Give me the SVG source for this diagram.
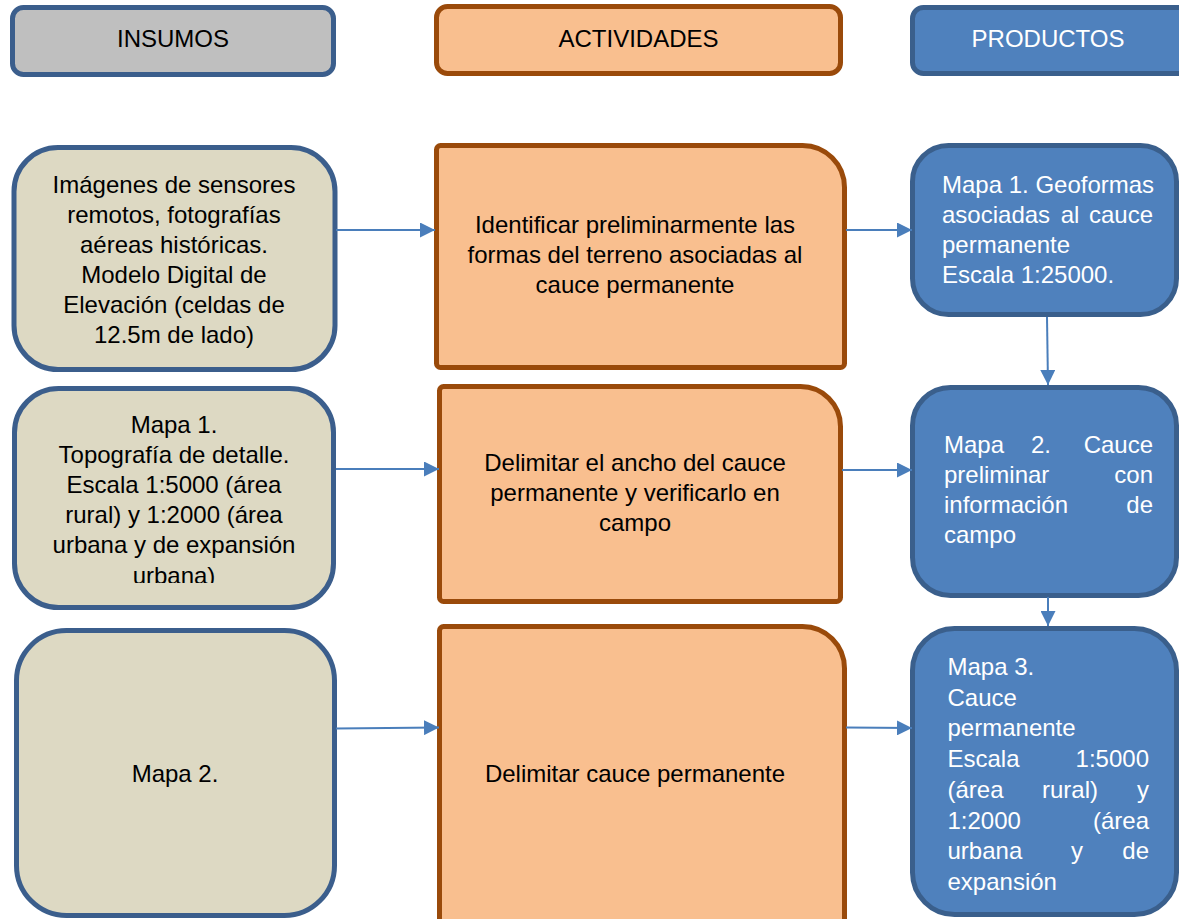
<svg xmlns="http://www.w3.org/2000/svg" width="1179" height="919" viewBox="0 0 1179 919">
<style>
.ins{fill:#DDD9C3;stroke:#3B5E8C;stroke-width:5}
.act{fill:#F9BF8F;stroke:#9A4A0A;stroke-width:5}
.prd{fill:#4F81BD;stroke:#3A5F8C;stroke-width:5}
.hi{fill:#BFBFBF;stroke:#3B5E8C;stroke-width:5}
text{font-family:"Liberation Sans",Arial,sans-serif;font-size:24px;fill:#000}
.c{text-anchor:middle}
.w{fill:#fff}
.e{text-anchor:end}
.con{stroke:#4A7EBB;stroke-width:2;fill:none;marker-end:url(#ah)}
</style>
<defs>
<marker id="ah" viewBox="0 0 15 15" refX="15" refY="7.5" markerUnits="userSpaceOnUse" markerWidth="15" markerHeight="15" orient="auto">
<path d="M0,0 L15,7.5 L0,15 Z" fill="#4A7EBB"/>
</marker>
<clipPath id="clip2"><rect x="0" y="380" width="400" height="203"/></clipPath>
</defs>
<rect width="1179" height="919" fill="#fff"/>

<g id="h-insumos"><rect class="hi" x="12.5" y="7.5" width="321" height="67" rx="11"/><text class="c" x="173" y="47">INSUMOS</text></g>
<g id="h-actividades"><rect class="act" x="436.5" y="6.5" width="404" height="67" rx="11"/><text class="c" x="638.5" y="47">ACTIVIDADES</text></g>
<g id="h-productos"><rect class="prd" x="912.5" y="7.5" width="280" height="66" rx="11"/><text class="c w" x="1048" y="47">PRODUCTOS</text></g>

<g id="ins1"><rect class="ins" x="14" y="147.5" width="321" height="222" rx="44"/>
<text class="c" x="174" y="193">Imágenes de sensores</text>
<text class="c" x="174" y="223">remotos, fotografías</text>
<text class="c" x="174" y="253">aéreas históricas.</text>
<text class="c" x="174" y="283">Modelo Digital de</text>
<text class="c" x="174" y="313">Elevación (celdas de</text>
<text class="c" x="174" y="343">12.5m de lado)</text></g>

<g id="act1"><path class="act" d="M440.5,145.5 H802.5 A42,42 0 0 1 844.5,187.5 V363.5 A4,4 0 0 1 840.5,367.5 H440.5 A4,4 0 0 1 436.5,363.5 V149.5 A4,4 0 0 1 440.5,145.5 Z"/>
<text class="c" x="635" y="233">Identificar preliminarmente las</text>
<text class="c" x="635" y="263">formas del terreno asociadas al</text>
<text class="c" x="635" y="293">cauce permanente</text></g>

<g id="prd1"><rect class="prd" x="912.5" y="145.5" width="264" height="169" rx="36"/>
<text class="w" x="942" y="193">Mapa 1. Geoformas</text>
<text class="w" x="942" y="223">asociadas</text><text class="w c" x="1070" y="223">al</text><text class="w e" x="1153" y="223">cauce</text>
<text class="w" x="942" y="253">permanente</text>
<text class="w" x="942" y="283">Escala 1:25000.</text></g>

<g id="ins2"><rect class="ins" x="14.5" y="388.5" width="319" height="219" rx="44"/>
<g clip-path="url(#clip2)">
<text class="c" x="174" y="433">Mapa 1.</text>
<text class="c" x="174" y="463">Topografía de detalle.</text>
<text class="c" x="174" y="493">Escala 1:5000 (área</text>
<text class="c" x="174" y="523">rural) y 1:2000 (área</text>
<text class="c" x="174" y="553">urbana y de expansión</text>
<text class="c" x="174" y="584">urbana)</text></g></g>

<g id="act2"><path class="act" d="M443.5,386.5 H800.5 A40,40 0 0 1 840.5,426.5 V597.5 A4,4 0 0 1 836.5,601.5 H443.5 A4,4 0 0 1 439.5,597.5 V390.5 A4,4 0 0 1 443.5,386.5 Z"/>
<text class="c" x="635" y="471">Delimitar el ancho del cauce</text>
<text class="c" x="635" y="501">permanente y verificarlo en</text>
<text class="c" x="635" y="531">campo</text></g>

<g id="prd2"><rect class="prd" x="912.5" y="387.5" width="264" height="208" rx="38"/>
<text class="w" x="944" y="453">Mapa</text><text class="w" x="1031" y="453">2.</text><text class="w e" x="1153" y="453">Cauce</text>
<text class="w" x="944" y="483">preliminar</text><text class="w e" x="1153" y="483">con</text>
<text class="w" x="944" y="513">información</text><text class="w e" x="1153" y="513">de</text>
<text class="w" x="944" y="543">campo</text></g>

<g id="ins3"><rect class="ins" x="16.5" y="630.5" width="318" height="285" rx="50"/>
<text class="c" x="175" y="782">Mapa 2.</text></g>

<g id="act3"><path class="act" d="M443.5,626.5 H802.5 A42,42 0 0 1 844.5,668.5 V930 H439.5 V630.5 A4,4 0 0 1 443.5,626.5 Z"/>
<text class="c" x="635" y="782">Delimitar cauce permanente</text></g>

<g id="prd3"><rect class="prd" x="912.5" y="628.5" width="264" height="286" rx="42"/>
<text class="w" x="947.5" y="675">Mapa 3.</text>
<text class="w" x="947.5" y="706">Cauce</text>
<text class="w" x="947.5" y="736">permanente</text>
<text class="w" x="947.5" y="767">Escala</text><text class="w e" x="1149" y="767">1:5000</text>
<text class="w" x="947.5" y="798">(área</text><text class="w" x="1042" y="798">rural)</text><text class="w e" x="1149" y="798">y</text>
<text class="w" x="947.5" y="829">1:2000</text><text class="w e" x="1149" y="829">(área</text>
<text class="w" x="947.5" y="859">urbana</text><text class="w c" x="1077" y="859">y</text><text class="w e" x="1149" y="859">de</text>
<text class="w" x="947.5" y="890">expansión</text></g>

<g id="connectors">
<line class="con" x1="336" y1="230" x2="435" y2="230"/>
<line class="con" x1="846" y1="230" x2="912" y2="230"/>
<line class="con" x1="336" y1="469" x2="439" y2="469"/>
<line class="con" x1="842" y1="470" x2="912" y2="470"/>
<line class="con" x1="336" y1="728.5" x2="439" y2="727.5"/>
<line class="con" x1="846" y1="727.5" x2="912" y2="728"/>
<line class="con" x1="1047" y1="317" x2="1048" y2="385"/>
<line class="con" x1="1048" y1="597" x2="1048" y2="626"/>
</g>
</svg>
